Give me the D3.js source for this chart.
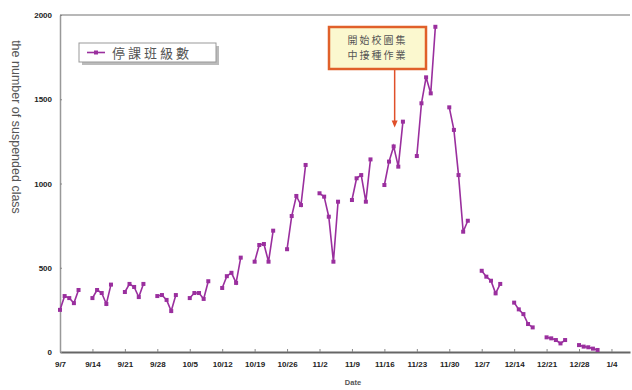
<!DOCTYPE html>
<html>
<head>
<meta charset="utf-8">
<script src="https://cdn.jsdelivr.net/npm/d3@7"></script>
<style>
  html, body { margin: 0; padding: 0; background: #fff; }
  svg { display: block; }
</style>
</head>
<body>
<svg id="chart" width="632" height="390"></svg>
<script>
// School days (Mon–Fri) from 2009-09-07 to 2010-01-01, one week per row
const weekStarts = ["2009-09-07","2009-09-14","2009-09-21","2009-09-28","2009-10-05","2009-10-12",
  "2009-10-19","2009-10-26","2009-11-02","2009-11-09","2009-11-16","2009-11-23","2009-11-30",
  "2009-12-07","2009-12-14","2009-12-21","2009-12-28"];

// Number of suspended classes for each school day (5 per week)
const suspendedClasses = [
  [250, 332, 320, 290, 368],
  [320, 368, 350, 285, 400],
  [356, 404, 386, 326, 404],
  [332, 338, 309, 243, 338],
  [320, 350, 350, 315, 420],
  [380, 450, 470, 410, 560],
  [536, 635, 641, 536, 720],
  [610, 807, 926, 872, 1110],
  [942, 922, 803, 536, 892],
  [902, 1031, 1050, 892, 1143],
  [991, 1130, 1220, 1100, 1367],
  [1163, 1476, 1630, 1535, 1930],
  [1452, 1318, 1050, 714, 779],
  [482, 447, 423, 348, 404],
  [293, 253, 225, 166, 146],
  [87, 81, 71, 51, 71],
  [41, 32, 28, 20, 12]
];

const xTickLabels = ["9/7","9/14","9/21","9/28","10/5","10/12","10/19","10/26","11/2",
  "11/9","11/16","11/23","11/30","12/7","12/14","12/21","12/28","1/4"];
const yTicks = [0, 500, 1000, 1500, 2000];

const legendLabel = "停課班級數";
const noteLines = ["開始校園集", "中接種作業"];
const noteDate = "2009-11-18";
const noteValue = 1220;

const parse = d3.timeParse("%Y-%m-%d");
const color = "#9a2f9e";

const svg = d3.select("#chart");
const W = 632, H = 390;
const m = { left: 60, right: 2, top: 15, bottom: 38 };

const x = d3.scaleTime()
  .domain([parse("2009-09-07"), parse("2010-01-08")])
  .range([m.left, W - m.right]);
const y = d3.scaleLinear().domain([0, 2000]).range([H - m.bottom, m.top]);

// Plot frame
svg.append("line")
  .attr("x1", m.left).attr("x2", W - m.right)
  .attr("y1", m.top).attr("y2", m.top)
  .attr("stroke", "#b8b8b8").attr("stroke-width", 2);

// X axis: weekly ticks labelled by Monday dates
const tickDates = xTickLabels.map((_, i) => d3.timeDay.offset(parse("2009-09-07"), i * 7));
const xAxis = d3.axisBottom(x)
  .tickValues(tickDates)
  .tickFormat((d, i) => xTickLabels[i])
  .tickSizeInner(-3).tickSizeOuter(0).tickPadding(9);
const gx = svg.append("g")
  .attr("transform", `translate(0,${H - m.bottom})`)
  .call(xAxis);
gx.select(".domain").attr("stroke", "#666").attr("stroke-width", 2);
gx.selectAll(".tick line").attr("stroke", "#888");
gx.selectAll("text")
  .attr("font-family", "Liberation Sans, Arial, sans-serif")
  .attr("font-size", 8).attr("font-weight", "bold").attr("fill", "#222");

// Y axis
const yAxis = d3.axisLeft(y)
  .tickValues(yTicks)
  .tickFormat(d3.format("d"))
  .tickSizeInner(-2).tickSizeOuter(0).tickPadding(8);
const gy = svg.append("g")
  .attr("transform", `translate(${m.left},0)`)
  .call(yAxis);
gy.select(".domain").attr("stroke", "#999").attr("stroke-width", 1.5);
gy.selectAll(".tick line").attr("stroke", "#888");
gy.selectAll("text")
  .attr("font-family", "Liberation Sans, Arial, sans-serif")
  .attr("font-size", 8).attr("font-weight", "bold").attr("fill", "#222");

// Axis titles
svg.append("text")
  .attr("transform", "translate(12,127) rotate(90)")
  .attr("text-anchor", "middle")
  .attr("font-family", "Liberation Sans, Arial, sans-serif")
  .attr("font-size", 12.5).attr("fill", "#555")
  .text("the number of suspended class");

svg.append("text")
  .attr("x", 353).attr("y", 385)
  .attr("text-anchor", "middle")
  .attr("font-family", "Liberation Sans, Arial, sans-serif")
  .attr("font-size", 7.5).attr("font-weight", "bold").attr("fill", "#555")
  .text("Date");

// Series: one broken line per school week
const weeks = weekStarts.map((s, wi) => suspendedClasses[wi].map((v, di) => ({
  date: d3.timeDay.offset(parse(s), di),
  value: v
})));

const line = d3.line().x(d => x(d.date)).y(d => y(d.value));
const series = svg.append("g");
series.selectAll("path.week")
  .data(weeks).join("path")
  .attr("class", "week")
  .attr("d", line)
  .attr("fill", "none")
  .attr("stroke", color)
  .attr("stroke-width", 1.6);

series.selectAll("rect.pt")
  .data(weeks.flat()).join("rect")
  .attr("class", "pt")
  .attr("x", d => x(d.date) - 2).attr("y", d => y(d.value) - 2)
  .attr("width", 4).attr("height", 4)
  .attr("fill", color);

// Legend box with drop shadow
const lg = svg.append("g").attr("transform", "translate(79,43)");
lg.append("rect").attr("x", 3).attr("y", 3).attr("width", 137).attr("height", 19).attr("fill", "#bbb");
lg.append("rect").attr("width", 137).attr("height", 19)
  .attr("fill", "#fff").attr("stroke", "#999").attr("stroke-width", 1);
lg.append("line").attr("x1", 8).attr("x2", 26).attr("y1", 9.5).attr("y2", 9.5)
  .attr("stroke", color).attr("stroke-width", 1.6);
lg.append("rect").attr("x", 15).attr("y", 7.5).attr("width", 4).attr("height", 4).attr("fill", color);
lg.append("text").attr("x", 33).attr("y", 14.5)
  .attr("font-family", "Noto Sans CJK TC, sans-serif")
  .attr("font-size", 13).attr("fill", "#555").attr("letter-spacing", 3)
  .text(legendLabel);

// Annotation box and arrow
const ax = x(parse(noteDate)) + 1;
svg.append("line")
  .attr("x1", ax).attr("x2", ax)
  .attr("y1", 70).attr("y2", y(noteValue) - 22)
  .attr("stroke", "#e0502a").attr("stroke-width", 1.5);
svg.append("path")
  .attr("d", d3.line()([[ax - 3, y(noteValue) - 26], [ax + 3, y(noteValue) - 26], [ax, y(noteValue) - 19]]))
  .attr("fill", "#e0502a");

const nb = svg.append("g").attr("transform", "translate(329,27)");
nb.append("rect").attr("width", 97).attr("height", 42)
  .attr("fill", "#fbf8cf").attr("stroke", "#e0602a").attr("stroke-width", 2.5);
nb.selectAll("text").data(noteLines).join("text")
  .attr("x", 48.5).attr("y", (d, i) => 17 + i * 15)
  .attr("text-anchor", "middle")
  .attr("font-family", "Noto Sans CJK TC, sans-serif")
  .attr("font-size", 10).attr("fill", "#555").attr("letter-spacing", 2)
  .text(d => d);
</script>
</body>
</html>
